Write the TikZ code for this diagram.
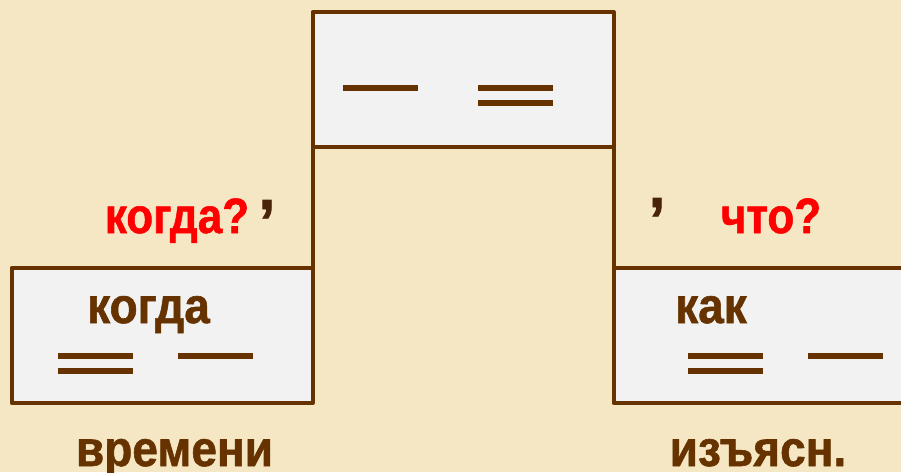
\documentclass[tikz,border=0pt]{standalone}
\usepackage{fontspec}
\setmainfont{Liberation Sans}
\newfontfamily\boldsans{Liberation Sans Bold}[FakeBold=1.2]
\definecolor{bg}{HTML}{F6E7C4}
\definecolor{boxfill}{HTML}{F2F2F2}
\definecolor{brown}{HTML}{663300}
\definecolor{qred}{HTML}{FF0000}
\definecolor{commac}{HTML}{4A2408}
\tikzset{
  membox/.style={draw=brown, fill=boxfill, line width=4pt, rectangle, inner sep=0pt, outer sep=0pt, line join=round},
  link/.style={draw=brown, line width=4pt},
  mark line/.style={draw=brown, line width=5.5pt},
  word/.style={font=\boldsans\fontsize{46}{50}\selectfont, text=brown, inner sep=0pt, anchor=base, yscale=1.09, transform shape},
  question/.style={font=\boldsans\fontsize{44}{48}\selectfont, text=qred, inner sep=0pt, anchor=base, yscale=1.13, transform shape},
  commamark/.style={font=\boldsans\fontsize{60}{64}\selectfont, text=commac, inner sep=0pt, anchor=base},
}
\begin{document}
\begin{tikzpicture}[x=1pt,y=-1pt]
\fill[bg] (0,0) rectangle (901,472);
\useasboundingbox (0,0) rectangle (901,472);
\clip (0,0) rectangle (901,472);
% boxes
\node[membox, minimum width=301pt, minimum height=135pt] (top) at (463,79.5) {};
\node[membox, minimum width=301pt, minimum height=135pt] (left) at (162,335.5) {};
\node[membox, minimum width=301pt, minimum height=135pt] (right) at (764,335.5) {};
% connectors
\draw[link] (top.south west) -- (left.north east);
\draw[link] (top.south east) -- (right.north west);
% top box marks
\draw[mark line] (343,88) -- (418,88);
\draw[mark line] (478,88) -- (553,88);
\draw[mark line] (478,103) -- (553,103);
% left box marks
\draw[mark line] (58,356) -- (133,356);
\draw[mark line] (58,371) -- (133,371);
\draw[mark line] (178,356) -- (253,356);
% right box marks
\draw[mark line] (688,356) -- (763,356);
\draw[mark line] (688,371) -- (763,371);
\draw[mark line] (808,356) -- (883,356);
% texts
\node[word] (w1) at (148.5,323) {когда};
\node[word] (w2) at (711,323) {как};
\node[word] (w3) at (174.5,466) {времени};
\node[word] (w4) at (758,466) {изъясн.};
\node[question] (q1) at (177,233) {когда?};
\node[question] (q2) at (771,233) {что?};
\node[commamark] (c1) at (267,209) {,};
\node[commamark] (c2) at (657,207) {,};
\end{tikzpicture}
\end{document}
